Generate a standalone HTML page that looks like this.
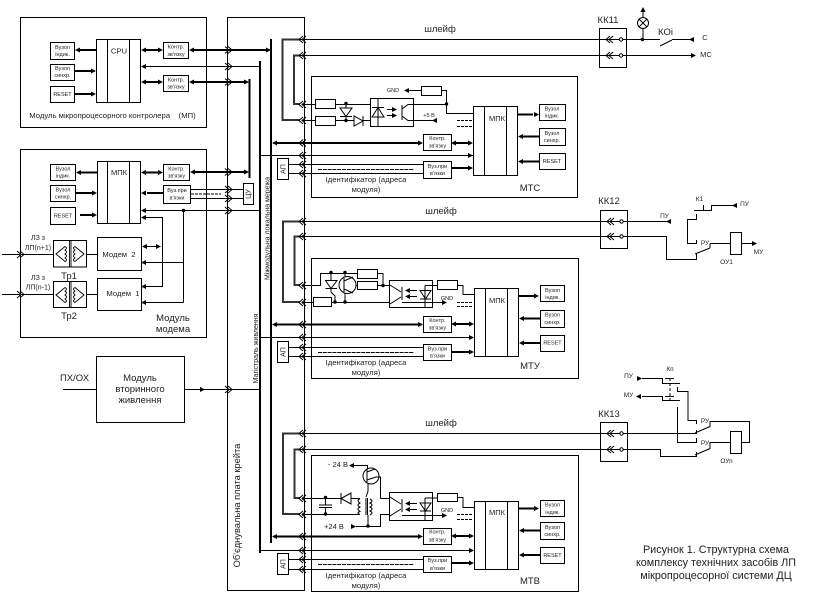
<!DOCTYPE html>
<html><head><meta charset="utf-8"><style>
html,body{margin:0;padding:0;background:#fff}
svg{display:block}
text{font-family:"Liberation Sans",sans-serif;fill:#222;stroke:none;text-anchor:middle}
.s{font-size:5.5px}.m{font-size:7.7px}.n{font-size:9.5px}
.k{stroke-width:2}.g{stroke-width:2;stroke:#333}
</style></head><body>
<svg width="818" height="611" viewBox="0 0 818 611" xmlns="http://www.w3.org/2000/svg">
<defs>
<path id="c" d="M5,-3.5L1,0L5,3.5M8,-3.5L4,0L8,3.5" fill="none" stroke="#000" stroke-width="1"/>
<path id="L" d="M0,0L5,-2.5V2.5Z" fill="#000" stroke="none"/>
<path id="R" d="M0,0L-5,-2.5V2.5Z" fill="#000" stroke="none"/>
<circle id="d" r="1.7" fill="#000" stroke="none"/>
</defs>
<rect width="818" height="611" fill="#fff"/>
<g fill="none" stroke="#000" stroke-width="1">
<!-- frames -->
<rect x="20.5" y="17.5" width="186" height="110"/>
<rect x="20.5" y="149.5" width="186" height="188"/>
<rect x="227.5" y="17.5" width="77" height="573"/>
<rect x="96.5" y="356.5" width="88" height="66"/>
<rect x="311.5" y="76.5" width="266" height="121"/>
<rect x="311.5" y="258.5" width="267" height="120"/>
<rect x="311.5" y="455.5" width="267" height="136"/>
<!-- buses -->
<path class="k" d="M271,39V543M260,61V553M249.5,79V178"/>
<!-- MP -->
<rect x="50.5" y="42.5" width="24" height="17"/><rect x="50.5" y="64.5" width="24" height="16"/><rect x="50.5" y="86.5" width="24" height="16"/>
<rect x="96.5" y="39.5" width="44" height="63"/><path d="M107.5,39.5V102.5M129.5,39.5V102.5"/>
<rect x="163.5" y="42.5" width="25" height="16"/><rect x="163.5" y="75.5" width="25" height="16"/>
<path class="k" d="M77,50H96M75,71H92M75,94H92M145,50H159M145,82H159M193,50H266M193,82H245"/>
<path d="M143,66.5H260"/>
<use href="#L" x="75" y="50"/><use href="#R" x="96" y="71"/><use href="#R" x="96" y="94"/>
<use href="#L" x="141" y="50"/><use href="#R" x="163" y="50"/><use href="#L" x="141" y="82"/><use href="#R" x="163" y="82"/>
<use href="#L" x="189" y="50"/><use href="#R" x="271" y="50"/><use href="#L" x="189" y="82"/><use href="#R" x="249" y="82"/>
<use href="#L" x="141" y="66.5"/>
<use href="#c" transform="translate(233,50) scale(-1,1)"/><use href="#c" transform="translate(233,66.5) scale(-1,1)"/><use href="#c" transform="translate(233,82) scale(-1,1)"/>
<!-- Modem module -->
<rect x="50.5" y="164.5" width="25" height="16"/><rect x="50.5" y="185.5" width="25" height="16"/><rect x="50.5" y="207.5" width="25" height="17"/>
<rect x="97.5" y="161.5" width="43" height="62"/><path d="M107.5,161.5V223.5M129.5,161.5V223.5"/>
<rect x="163.5" y="164.5" width="26" height="16"/><rect x="163.5" y="185.5" width="27" height="18"/>
<path class="k" d="M80,172.5H97M76,193H92M80,215H92M145,172.5H159M147,193H163M194,172H245"/>
<path d="M191,189.5H243M191,198.5H243"/>
<path d="M191,194H221" stroke-dasharray="3,1"/>
<use href="#L" x="76" y="172.5"/><use href="#R" x="97" y="193"/><use href="#R" x="97" y="215"/>
<use href="#L" x="141" y="172.5"/><use href="#R" x="163" y="172.5"/><use href="#L" x="141" y="193"/>
<use href="#L" x="190" y="172"/><use href="#R" x="249" y="172"/>
<use href="#c" transform="translate(233,172) scale(-1,1)"/><use href="#c" transform="translate(233,189.5) scale(-1,1)"/><use href="#c" transform="translate(233,198.5) scale(-1,1)"/><use href="#c" transform="translate(233,210.5) scale(-1,1)"/>
<rect x="243.5" y="183.5" width="10" height="21" fill="#fff"/>
<path d="M143,210.5H260M183.5,210.5V302.5M143,217.5H162.5V286.5H143M143,262.5H183.5M143,302.5H183.5"/>
<path d="M145,246.5H159"/><use href="#L" x="142" y="246.5"/><use href="#R" x="161" y="246.5"/>
<use href="#L" x="141" y="210.5"/><use href="#L" x="141" y="217.5"/><use href="#L" x="141" y="286.5"/><use href="#L" x="141" y="262.5"/><use href="#L" x="141" y="302.5"/>
<use href="#d" x="183.5" y="210.5"/>
<rect x="97.5" y="237.5" width="44" height="33"/><rect x="97.5" y="278.5" width="44" height="32"/>
<rect x="53.5" y="240.5" width="33" height="26.5"/><rect x="53.5" y="281.5" width="33" height="26"/>
<path d="M2,254.5H53M87,254.5H97M2,294.5H53M87,294.5H97"/>
<use href="#c" transform="translate(25,254.5) scale(-1,1)"/><use href="#c" transform="translate(25,294.5) scale(-1,1)"/>
<g stroke-width=".9">
<path d="M56,254L65,246.5Q68,248 65,250Q68,252 65,254Q68,256 65,258Q68,260 65,261.5ZM84,254L75,246.5Q72,248 75,250Q72,252 75,254Q72,256 75,258Q72,260 75,261.5ZM69.5,241V267M71,241V267" fill="#fff"/>
<path d="M56,295L65,287.5Q68,289 65,291Q68,293 65,295Q68,297 65,299Q68,301 65,302.5ZM84,295L75,287.5Q72,289 75,291Q72,293 75,295Q72,297 75,299Q72,301 75,302.5ZM69.5,282V307.5M71,282V307.5" fill="#fff"/>
</g>
<!-- power -->
<path d="M63,389.5H96M184,389.5H260"/><use href="#R" x="205" y="389.5"/><use href="#c" transform="translate(233,389.5) scale(-1,1)"/>

<!-- MTC section -->
<path d="M300,39.5H600M300,55.5H600"/>
<path class="g" d="M300,39.5H282.5V120H300M300,55.5H294V104H300"/>
<path d="M303,104.5H370M303,120.5H370"/>
<rect x="315.5" y="99.5" width="20" height="9" fill="#fff"/><rect x="315.5" y="116.5" width="20" height="9" fill="#fff"/>
<path d="M346,104V120"/>
<path d="M340,108H352L346,116.5ZM340,116.5H352" fill="#fff"/>
<path d="M354,116V126L363,121ZM363,116V126" fill="#fff"/>
<use href="#d" x="346" y="103.5"/><use href="#d" x="346" y="120.5"/>
<rect x="370.5" y="98.5" width="43" height="28" fill="#fff"/>
<path d="M372,117H384L378,107.5ZM372,107.5H384M378,98.5V126.5"/>
<path d="M387,109.5H393M387,115.5H393M402,105V120M402,109L408,104.5H413M402,116L408,120.5H436"/>
<use href="#R" x="397" y="109.5"/><use href="#R" x="397" y="115.5"/><use href="#L" x="432" y="120.5"/>
<path d="M409,90.5H421M441,90.5H446.5V113.5H473.5M413,104.5H446.5"/><use href="#L" x="404" y="90.5"/><use href="#d" x="446.5" y="104"/>
<rect x="421.5" y="86.5" width="20" height="9" fill="#fff"/>
<path d="M457,120.5H473M457,126.5H473" stroke-dasharray="3,1"/>
<rect x="473.5" y="106.5" width="44" height="69" fill="#fff"/><path d="M484.5,106.5V175.5M506.5,106.5V175.5"/>
<rect x="539.5" y="104.5" width="26" height="16"/><rect x="539.5" y="128.5" width="26" height="17"/><rect x="539.5" y="153.5" width="26" height="16"/>
<path class="k" d="M517,114.5H533M523,136.5H539M523,161.5H539M276,143H418M455,143H469M451,168H468"/>
<use href="#R" x="539" y="114.5"/><use href="#L" x="518" y="136.5"/><use href="#L" x="518" y="161.5"/>
<use href="#L" x="272" y="143"/><use href="#R" x="423" y="143"/><use href="#L" x="451" y="143"/><use href="#R" x="473" y="143"/><use href="#R" x="473" y="168"/>
<rect x="423.5" y="134.5" width="28" height="16"/><rect x="423.5" y="161.5" width="28" height="17"/>
<path d="M260,155.5H473M288,164.5H423M288,173.5H423"/>
<path d="M318,169.5H414" stroke-dasharray="4,.8"/>
<use href="#R" x="473" y="155.5"/>
<rect x="277.5" y="158.5" width="11" height="21" fill="#fff"/>
<use href="#c" x="298" y="39.5"/><use href="#c" x="298" y="55.5"/><use href="#c" x="298" y="104.5"/><use href="#c" x="298" y="120.5"/><use href="#c" x="298" y="143"/><use href="#c" x="298" y="155.5"/><use href="#c" x="298" y="164.5"/><use href="#c" x="298" y="173.5"/>

<!-- MTU section -->
<path d="M300,221.5H600M300,236.5H600"/>
<path class="g" d="M300,221.5H283V302H300M300,236.5H294.5V285H300"/>
<path d="M303,285.5H320.5V273.5H383V285.5H389M355,285.5H389M303,302.5H445M331,273V292L335,296V302"/>
<path d="M325.5,280.5H337L331,288.5ZM325.5,288.5H337" fill="#fff"/>
<path d="M345,273V302"/>
<circle cx="347.5" cy="285" r="8.5" fill="#fff"/>
<path d="M344,278V292M344,281L353,277M344,289L353,293"/>
<rect x="357.5" y="269.5" width="20" height="9" fill="#fff"/><rect x="357.5" y="281.5" width="20" height="8" fill="#fff"/>
<rect x="313.5" y="297.5" width="18" height="9" fill="#fff"/>
<use href="#d" x="331" y="272.5"/><use href="#d" x="345" y="272.5"/><use href="#d" x="335" y="302"/><use href="#d" x="345" y="302"/><use href="#d" x="383" y="285.5"/>
<rect x="389.5" y="280.5" width="43" height="27" fill="#fff"/>
<path d="M390,285L401,292M390,304L401,297M402,287V300"/>
<path d="M409,290.5H417M409,296.5H417M425,285.5V307M425,285.5H437M420,290.5H431L425.5,299ZM420,299H431" fill="none"/>
<use href="#L" x="405" y="290.5"/><use href="#L" x="405" y="296.5"/>
<path d="M402,302.5H442"/><use href="#R" x="447" y="302.5"/>
<path d="M457,285.5H463V294.5H474"/>
<rect x="437.5" y="280.5" width="20" height="9" fill="#fff"/>
<path d="M457,302.5H473M457,306.5H473" stroke-dasharray="3,1"/>
<rect x="474.5" y="288.5" width="44" height="68" fill="#fff"/><path d="M485.5,288.5V356.5M507.5,288.5V356.5"/>
<rect x="540.5" y="285.5" width="24" height="16"/><rect x="540.5" y="310.5" width="24" height="17"/><rect x="540.5" y="335.5" width="24" height="16"/>
<path class="k" d="M518,296H534M524,318.5H540M524,343H540M276,324.5H418M455,324H470M451,352H470"/>
<use href="#R" x="539" y="296"/><use href="#L" x="519" y="318.5"/><use href="#L" x="519" y="343"/>
<use href="#L" x="272" y="324.5"/><use href="#R" x="423" y="324.5"/><use href="#L" x="451" y="324"/><use href="#R" x="474" y="324"/><use href="#R" x="474" y="352"/>
<rect x="423.5" y="316.5" width="28" height="16"/><rect x="423.5" y="344.5" width="28" height="16"/>
<path d="M260,337.5H473M288,347.5H423M288,356.5H423"/>
<path d="M318,352.5H414" stroke-dasharray="4,.8"/>
<use href="#R" x="474" y="337.5"/>
<rect x="277.5" y="341.5" width="11" height="21" fill="#fff"/>
<use href="#c" x="298" y="221.5"/><use href="#c" x="298" y="236.5"/><use href="#c" x="298" y="285.5"/><use href="#c" x="298" y="302.5"/><use href="#c" x="298" y="324.5"/><use href="#c" x="298" y="337.5"/><use href="#c" x="298" y="347.5"/><use href="#c" x="298" y="356.5"/>

<!-- MTV section -->
<path d="M300,433.5H600M300,449.5H600"/>
<path class="g" d="M300,433.5H283V514H300M300,449.5H294.5V498H300"/>
<path d="M303,498.5H360M303,514.5H360M325.5,498V505M325.5,507.5V514M319,505H332M319,507.5H332"/>
<use href="#d" x="325.5" y="497.5"/><use href="#d" x="325.5" y="514"/>
<path d="M341,498.5L351,493V504ZM341,493V504" fill="#fff"/>
<path d="M360,498.5Q356,500.5 360,503Q356,505 360,507Q356,509 360,511.5Q356,513 360,514.5"/>
<path d="M366,498V515M367.5,498V515"/>
<path d="M370,499Q374,501 370,503Q374,505 370,507Q374,509 370,511Q374,513 370,515"/>
<path d="M354,465.5H367.5V469M368,484V491L366,497M368,515V526M356,526.5H380.5V514.5H389M380.5,498.5V477H376M380.5,498.5H389"/>
<use href="#L" x="349" y="465.5"/><use href="#R" x="356" y="526.5"/><use href="#d" x="368" y="526"/>
<circle cx="371" cy="476" r="8" fill="#fff"/>
<path d="M367,469V483M367,472L375,469M367,480L376,477H380"/>
<rect x="389.5" y="492.5" width="43" height="28" fill="#fff"/>
<path d="M390,497L401,504M390,516L401,509M402,499V512"/>
<path d="M409,503.5H417M409,509.5H417M425,498V520M425,498H437M420,503H431L425.5,511ZM420,511H431"/>
<use href="#L" x="405" y="503.5"/><use href="#L" x="405" y="509.5"/>
<path d="M402,515.5H442"/><use href="#R" x="447" y="515.5"/>
<path d="M457,497.5H463V507.5H474"/>
<rect x="437.5" y="493.5" width="20" height="8" fill="#fff"/>
<path d="M457,514.5H473M457,519.5H473" stroke-dasharray="3,1"/>
<rect x="474.5" y="501.5" width="44" height="68" fill="#fff"/><path d="M485.5,501.5V569.5M507.5,501.5V569.5"/>
<rect x="540.5" y="500.5" width="24" height="16"/><rect x="540.5" y="522.5" width="24" height="17"/><rect x="540.5" y="547.5" width="24" height="16"/>
<path class="k" d="M518,508.5H534M524,530.5H540M524,555H540M276,536.5H418M455,536H470M451,563H470"/>
<use href="#R" x="539" y="508.5"/><use href="#L" x="519" y="530.5"/><use href="#L" x="519" y="555"/>
<use href="#L" x="272" y="536.5"/><use href="#R" x="423" y="536.5"/><use href="#L" x="451" y="536"/><use href="#R" x="474" y="536"/><use href="#R" x="474" y="563"/>
<rect x="423.5" y="528.5" width="28" height="16"/><rect x="423.5" y="556.5" width="28" height="16"/>
<path d="M260,550.5H473M288,559.5H423M288,569.5H423"/>
<path d="M318,564.5H414" stroke-dasharray="4,.8"/>
<use href="#R" x="474" y="550.5"/>
<rect x="277.5" y="553.5" width="11" height="21" fill="#fff"/>
<use href="#c" x="298" y="433.5"/><use href="#c" x="298" y="449.5"/><use href="#c" x="298" y="498.5"/><use href="#c" x="298" y="514.5"/><use href="#c" x="298" y="536.5"/><use href="#c" x="298" y="550.5"/><use href="#c" x="298" y="559.5"/><use href="#c" x="298" y="569.5"/>

<!-- KK11 -->
<rect x="599.5" y="28.5" width="27" height="39" fill="#fff"/>
<path d="M600,39.5H660M672,39.5H692M600,55.5H691M660,46L672,40M643,39V29M643,17V9"/>
<use href="#c" x="605" y="39.5"/><use href="#c" x="605" y="55.5"/>
<circle cx="621" cy="39.5" r="1.7" fill="#fff"/><circle cx="621" cy="55.5" r="1.7" fill="#fff"/>
<circle cx="643" cy="23" r="5.5" fill="#fff"/><path d="M639,19L647,27M647,19L639,27"/>
<use href="#d" x="642.5" y="39.5"/><path d="M643,7L645.5,12H640.5Z" fill="#000" stroke="none"/>
<use href="#L" x="689" y="39.5"/><use href="#R" x="696" y="55.5"/>
<!-- KK12 -->
<rect x="600.5" y="210.5" width="27" height="38" fill="#fff"/>
<path d="M600,221.5H668M600,236.5H666.5V259.5H696.5V254M695,254L710,248M710,243.5V248"/>
<use href="#c" x="606" y="221.5"/><use href="#c" x="606" y="236.5"/>
<circle cx="621.5" cy="221.5" r="1.7" fill="#fff"/><circle cx="621.5" cy="236.5" r="1.7" fill="#fff"/>
<use href="#L" x="666" y="221.5"/>
<path d="M694,210.5H711.5V205.5H733M703.5,205V210M696.5,214V219.5H687.5V243.5H696.5V240M710,243.5H730M741.5,243.5H752"/>
<use href="#L" x="732" y="205.5"/><use href="#R" x="757" y="243.5"/>
<rect x="730.5" y="232.5" width="11" height="22" fill="#fff"/>
<!-- KK13 -->
<rect x="600.5" y="422.5" width="27" height="39" fill="#fff"/>
<path d="M600,433.5H696.5V430M695,433L710,426.5V421M600,449.5H660.5V456.5H696.5V452M695,455L710,448.5V442.5H730M710,421.5H749.5V442.5H741.5"/>
<use href="#c" x="606" y="433.5"/><use href="#c" x="606" y="449.5"/>
<circle cx="621.5" cy="433.5" r="1.7" fill="#fff"/><circle cx="621.5" cy="449.5" r="1.7" fill="#fff"/>
<rect x="730.5" y="431.5" width="11" height="22" fill="#fff"/>
<path d="M642,378.5H662.5V383.5H680M642,396.5H662.5V400.5H680M665,378.5H674M665,396.5H674"/>
<path d="M670,378V400" stroke-dasharray="3,2"/>
<path d="M677.5,387V391.5H688V420.5H696.5V424M677.5,407V442.5H696.5V438"/>
<use href="#R" x="642" y="378.5"/><use href="#L" x="636" y="396.5"/>
</g>
<!-- small text -->
<text class="s" x="62.5" y="49">Вузол</text><text class="s" x="62.5" y="56">індик.</text>
<text class="s" x="62.5" y="70">Вузол</text><text class="s" x="62.5" y="77">синхр.</text>
<text class="s" x="62.5" y="96">RESET</text>
<text class="m" x="119" y="53.5">CPU</text>
<text class="s" x="176" y="48.5">Контр.</text><text class="s" x="176" y="56">зв'язку</text>
<text class="s" x="176" y="81.5">Контр.</text><text class="s" x="176" y="88.5">зв'язку</text>
<text class="m" x="112.5" y="118">Модуль мікропроцесорного контролера&#160;&#160;&#160;&#160;(МП)</text>
<text class="s" x="63" y="170.5">Вузол</text><text class="s" x="63" y="177.5">індик.</text>
<text class="s" x="63" y="191.5">Вузол</text><text class="s" x="63" y="198.5">синхр.</text>
<text class="s" x="63" y="217.5">RESET</text>
<text class="s" style="font-size:7.5px" x="119" y="175">МПК</text>
<text class="s" x="176.5" y="170.5">Контр.</text><text class="s" x="176.5" y="177.5">зв'язку</text>
<text class="s" x="177" y="192">Вуз.при</text><text class="s" x="177" y="199.5">в'язки</text>
<text class="s" style="font-size:7px" transform="translate(250.5,194) rotate(-90)">ЦУ</text>
<text class="m" x="119" y="257">Модем&#160;&#160;2</text>
<text class="m" x="123" y="296">Модем&#160;&#160;1</text>
<text class="s" style="font-size:7px" x="38" y="240">ЛЗ з</text><text class="s" style="font-size:7px" x="38" y="250">ЛП(n+1)</text>
<text class="s" style="font-size:7px" x="38" y="280">ЛЗ з</text><text class="s" style="font-size:7px" x="38" y="289.5">ЛП(n-1)</text>
<text class="n" x="69" y="279">Тр1</text><text class="n" x="69" y="319">Тр2</text>
<text class="n" x="173" y="321">Модуль</text><text class="n" x="173" y="332">модема</text>
<text class="n" x="140" y="381">Модуль</text><text class="n" x="140" y="392">вторинного</text><text class="n" x="140" y="403">живлення</text>
<text class="n" x="74.5" y="381">ПХ/ОХ</text>
<text transform="translate(269.5,228.5) rotate(-90)" style="font-size:7px">Міжмодульна локальна мережа</text>
<text transform="translate(258,348.5) rotate(-90)" style="font-size:7px">Магістраль живлення</text>
<text style="font-size:9.3px" transform="translate(240,505.5) rotate(-90)">Об'єднувальна плата крейта</text>
<text class="n" x="440" y="32">шлейф</text><text class="n" x="441" y="214">шлейф</text><text class="n" x="441" y="426">шлейф</text>
<text class="s" x="393" y="92">GND</text><text class="s" x="429" y="117">+5 В</text>
<text class="s" style="font-size:7.5px" x="497" y="121">МПК</text>
<text class="s" x="552" y="110.5">Вузол</text><text class="s" x="552" y="117.5">індик.</text>
<text class="s" x="552" y="135">Вузол</text><text class="s" x="552" y="142">синхр.</text>
<text class="s" x="552" y="163">RESET</text>
<text class="s" x="437.5" y="140">Контр.</text><text class="s" x="437.5" y="147.5">зв'язку</text>
<text class="s" x="437.5" y="168">Вуз.при</text><text class="s" x="437.5" y="175">в'язки</text>
<text class="s" style="font-size:7px" transform="translate(285.5,169) rotate(-90)">АП</text>
<text class="m" x="366" y="182">Ідентифікатор (адреса</text><text class="m" x="366" y="192">модуля)</text>
<text class="n" x="530" y="191">МТС</text>
<text class="s" x="447" y="300">GND</text>
<text class="s" style="font-size:7.5px" x="497" y="303">МПК</text>
<text class="s" x="552.5" y="292">Вузол</text><text class="s" x="552.5" y="299">індик.</text>
<text class="s" x="552.5" y="316.5">Вузол</text><text class="s" x="552.5" y="324">синхр.</text>
<text class="s" x="552.5" y="344.5">RESET</text>
<text class="s" x="437.5" y="322">Контр.</text><text class="s" x="437.5" y="329.5">зв'язку</text>
<text class="s" x="437.5" y="350.5">Вуз.при</text><text class="s" x="437.5" y="357.5">в'язки</text>
<text class="s" style="font-size:7px" transform="translate(285.5,352) rotate(-90)">АП</text>
<text class="m" x="366" y="365">Ідентифікатор (адреса</text><text class="m" x="366" y="375">модуля)</text>
<text class="n" x="530" y="369">МТУ</text>
<text class="s" style="font-size:7.5px" x="338" y="467">- 24 В</text><text class="s" style="font-size:7.5px" x="334" y="529">+24 В</text>
<text class="s" x="447" y="512">GND</text>
<text class="s" style="font-size:7.5px" x="497" y="515">МПК</text>
<text class="s" x="552.5" y="506.5">Вузол</text><text class="s" x="552.5" y="514">індик.</text>
<text class="s" x="552.5" y="529">Вузол</text><text class="s" x="552.5" y="536">синхр.</text>
<text class="s" x="552.5" y="557">RESET</text>
<text class="s" x="437.5" y="533.5">Контр.</text><text class="s" x="437.5" y="541.5">зв'язку</text>
<text class="s" x="437.5" y="562">Вуз.при</text><text class="s" x="437.5" y="570">в'язки</text>
<text class="s" style="font-size:7px" transform="translate(285.5,564) rotate(-90)">АП</text>
<text class="m" x="366" y="578">Ідентифікатор (адреса</text><text class="m" x="366" y="588">модуля)</text>
<text class="n" x="530" y="584">МТВ</text>
<text class="n" x="608" y="23">КК11</text>
<text class="n" x="665.5" y="35">КОі</text>
<text class="s" style="font-size:7.5px" x="705" y="40">С</text><text class="s" style="font-size:7.5px" x="706" y="57">МС</text>
<text class="n" x="609" y="204">КК12</text>
<text class="s" style="font-size:6.5px" x="664.5" y="218">ПУ</text>
<text class="s" style="font-size:6.5px" x="699.5" y="201">К1</text>
<text class="s" style="font-size:6.5px" x="744.5" y="206">ПУ</text>
<text class="s" style="font-size:6.5px" x="705" y="245">РУ</text>
<text class="s" style="font-size:6.5px" x="758.5" y="254">МУ</text>
<text class="s" style="font-size:6.5px" x="726.5" y="264">ОУ1</text>
<text class="n" x="609" y="417">КК13</text>
<text class="s" style="font-size:6.5px" x="670" y="371">Кп</text>
<text class="s" style="font-size:6.5px" x="628.5" y="378">ПУ</text>
<text class="s" style="font-size:6.5px" x="628.5" y="397">МУ</text>
<text class="s" style="font-size:6.5px" x="705" y="423">РУ</text>
<text class="s" style="font-size:6.5px" x="705" y="445">РУ</text>
<text class="s" style="font-size:6.5px" x="726.5" y="463">ОУп</text>
<text style="font-size:10.8px" x="716" y="553">Рисунок 1. Структурна схема</text>
<text style="font-size:10.8px" x="716" y="566">комплексу технічних засобів ЛП</text>
<text style="font-size:10.8px" x="716" y="579">мікропроцесорної системи ДЦ</text>
</svg>
</body></html>
